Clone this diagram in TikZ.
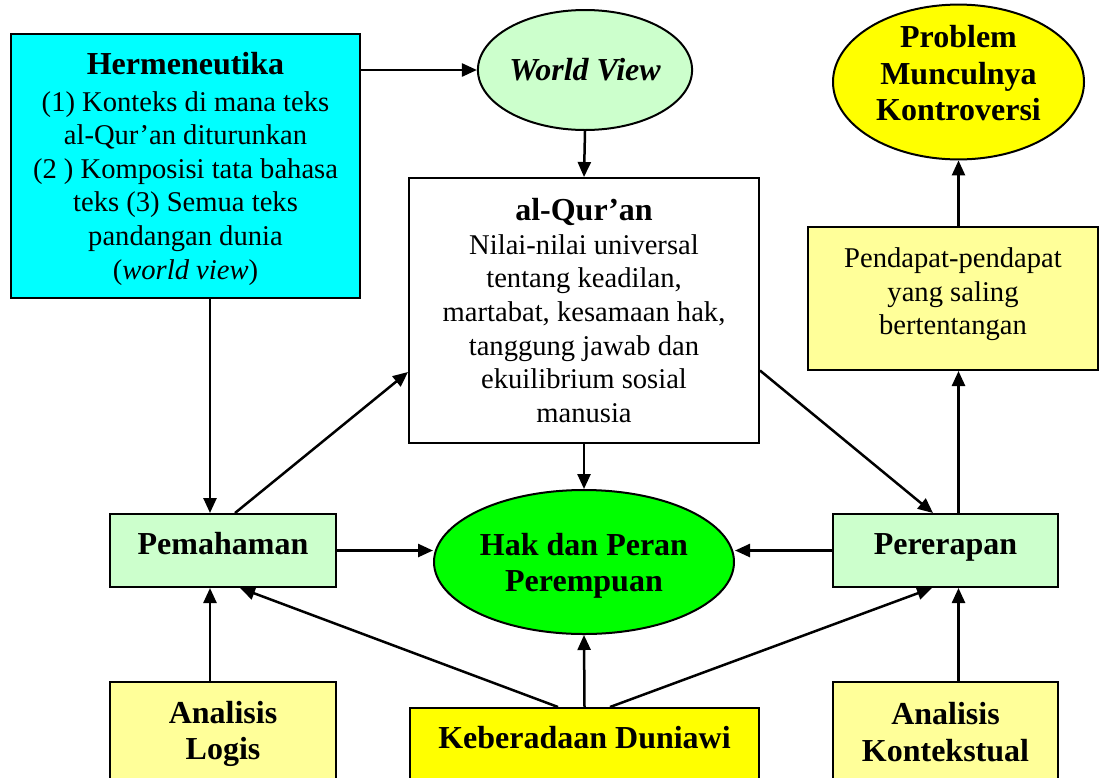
\documentclass[tikz,border=0pt]{standalone}
\usepackage{fontspec}
\setmainfont{Liberation Serif}
\usetikzlibrary{arrows.meta,shapes.geometric}
\definecolor{cyanbox}{HTML}{00FFFF}
\definecolor{lgreen}{HTML}{CCFFCC}
\definecolor{yel}{HTML}{FFFF00}
\definecolor{lyel}{HTML}{FFFF99}
\definecolor{grn}{HTML}{00FF00}
\newcommand{\mlines}[2]{\raisebox{#1}[\height][\depth]{\begin{tabular}{@{}c@{}}#2\end{tabular}}}
\tikzset{
 box/.style={draw=black, line width=2pt, rectangle, inner sep=0pt, align=center},
 oval/.style={draw=black, line width=2pt, ellipse, inner sep=0pt, align=center},
 reg/.style={font=\fontsize{28.6}{33.6}\selectfont},
 bld/.style={font=\fontsize{32}{36.5}\selectfont\bfseries},
 arr/.style={line width=2.5pt, -{Triangle[length=15pt,width=13pt]}},
}
\begin{document}
\begin{tikzpicture}[x=1pt,y=-1pt]
\useasboundingbox (0,0) rectangle (1100,777);
\fill[white] (0,0) rectangle (1100,777);
\clip (0,0) rectangle (1100,777);
% nodes
\node[box, reg, fill=cyanbox, minimum width=349pt, minimum height=264pt] (herm) at (185.5,166)
 {\mlines{-4pt}{{\fontsize{32}{36}\selectfont\bfseries Hermeneutika}\\[3pt](1) Konteks di mana teks\\al-Qur’an diturunkan\\(2 ) Komposisi tata bahasa\\teks (3) Semua teks\\pandangan dunia\\(\textit{world view})}};
\node[oval, fill=lgreen, minimum width=200pt, minimum height=120pt, font=\fontsize{32}{36.5}\selectfont\bfseries\itshape] (wv) at (585,70) {World View};
\node[oval, bld, fill=yel, minimum width=251pt, minimum height=146pt] (prob) at (958.5,82) {\mlines{5pt}{Problem\\Munculnya\\Kontroversi}};
\node[box, reg, fill=white, minimum width=350pt, minimum height=265pt] (quran) at (584,310.5)
 {{\fontsize{32}{36}\selectfont\bfseries al-Qur’an}\\Nilai-nilai universal\\tentang keadilan,\\martabat, kesamaan hak,\\tanggung jawab dan\\ekuilibrium sosial\\manusia};
\node[box, reg, fill=lyel, minimum width=290pt, minimum height=143pt] (pend) at (953,298.5) {\mlines{4pt}{Pendapat-pendapat\\yang saling\\bertentangan}};
\node[box, bld, fill=lgreen, minimum width=226pt, minimum height=73pt] (pem) at (223,550.5) {\mlines{3pt}{Pemahaman}};
\node[oval, bld, fill=grn, minimum width=300pt, minimum height=144pt] (hak) at (584,562) {\mlines{-4pt}{Hak dan Peran\\Perempuan}};
\node[box, bld, fill=lgreen, minimum width=225pt, minimum height=73pt] (pere) at (945.5,550.5) {\mlines{3pt}{Pererapan}};
\node[box, bld, fill=lyel, minimum width=226pt, minimum height=100pt] (alog) at (223,732) {\mlines{-2pt}{Analisis\\Logis}};
\node[box, bld, fill=lyel, minimum width=225pt, minimum height=100pt] (akon) at (945.5,732) {Analisis\\Kontekstual};
\node[draw=black, line width=2pt, rectangle, inner sep=0pt, fill=yel, font=\fontsize{32}{36.5}\selectfont\bfseries,
 minimum width=349pt, text height=40pt, text depth=60pt, anchor=north] (keb) at (584.5,707) {Keberadaan Duniawi};
% connectors
\draw[arr] (herm.east |- wv.west) -- (wv.west);
\draw[arr] (wv.south) -- (quran.north);
\draw[arr] ([xshift=-13pt]pem.north |- herm.south) -- ([xshift=-13pt]pem.north);
\draw[arr] ([xshift=12pt]pem.north) -- ([yshift=-61.5pt]quran.west);
\draw[arr] (quran.south) -- (hak.north);
\draw[arr] ([yshift=-60pt]quran.east) -- ([xshift=-12.5pt]pere.north);
\draw[arr] (pem.east) -- (pem.east -| hak.west);
\draw[arr] (pere.west) -- (pere.west -| hak.east);
\draw[arr] (pere.north -| prob.south) -- (pend.south -| prob.south);
\draw[arr] (pend.north -| prob.south) -- (prob.south);
\draw[arr] ([xshift=-13pt]alog.north) -- ([xshift=-13pt]pem.south);
\draw[arr] (akon.north -| prob.south) -- (pere.south -| prob.south);
\draw[arr] (keb.north) -- (hak.south);
\draw[arr] ([xshift=-26.5pt]keb.north) -- ([xshift=17pt]pem.south);
\draw[arr] ([xshift=25.5pt]keb.north) -- ([xshift=-13.5pt]pere.south);
\end{tikzpicture}
\end{document}
